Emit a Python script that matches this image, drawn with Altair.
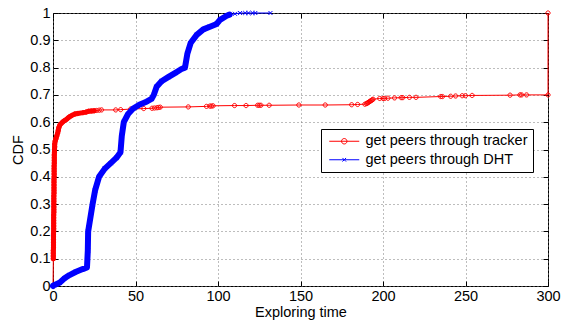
import altair as alt
import pandas as pd

series_names = ["get peers through tracker", "get peers through DHT"]
series_colors = ["#ff0000", "#0000ff"]

tracker_x = [0, 0.2, 0.2, 0.2, 0.2, 0.3, 0.3, 0.3, 0.3, 0.3, 0.3,
             0.4, 0.4, 0.4, 0.4, 0.4, 0.4, 0.4, 0.5, 0.5, 0.5,
             0.5, 0.5, 0.5, 0.5, 0.6, 0.6, 0.6, 0.6, 0.6, 0.6,
             0.7, 0.7, 0.7, 0.7, 0.7, 0.8, 0.8, 0.8, 0.8, 0.9,
             0.9, 1.0, 1.0,
             1.3, 1.8, 2.3, 2.8, 3.2, 3.5, 4.2, 5.7, 6.8, 8.1, 9.0, 10.1,
             11.5, 13.2, 15, 18.2, 20, 21.5, 23.3, 25, 26.5, 28, 29.4,
             38, 41, 47, 55, 60, 61.5, 63, 64, 65, 82, 93, 95, 96, 97,
             110, 117, 124, 125, 126, 131, 149, 165, 181, 184.6,
             189, 190, 190.5, 191, 191.5, 192, 192.5, 193, 193.5, 194,
             198, 200, 201, 203, 207, 211, 212, 216, 220, 235, 236, 241,
             244, 248, 250, 254, 277, 283, 284, 287, 300, 300]
tracker_y = [0, 0.10, 0.11, 0.12, 0.13, 0.14, 0.15, 0.16, 0.17, 0.18, 0.19,
             0.20, 0.21, 0.22, 0.23, 0.24, 0.25, 0.26, 0.27, 0.28, 0.29,
             0.30, 0.31, 0.32, 0.33, 0.34, 0.35, 0.36, 0.37, 0.38, 0.39,
             0.40, 0.41, 0.42, 0.43, 0.44, 0.45, 0.46, 0.47, 0.48, 0.49,
             0.50, 0.51, 0.52,
             0.53, 0.54, 0.55, 0.56, 0.57, 0.58, 0.59, 0.60, 0.605, 0.61, 0.615, 0.62,
             0.625, 0.63, 0.632, 0.635, 0.637, 0.64, 0.641, 0.642, 0.643, 0.644, 0.645,
             0.645, 0.646, 0.648, 0.65, 0.651, 0.652, 0.653, 0.654, 0.655, 0.656, 0.658, 0.659, 0.659, 0.66,
             0.661, 0.661, 0.662, 0.662, 0.662, 0.662, 0.663, 0.663, 0.664, 0.665,
             0.666, 0.668, 0.670, 0.672, 0.674, 0.676, 0.678, 0.680, 0.682, 0.684,
             0.687, 0.687, 0.687, 0.688, 0.689, 0.690, 0.690, 0.691, 0.691, 0.694, 0.694, 0.695,
             0.696, 0.697, 0.697, 0.698, 0.699, 0.700, 0.700, 0.700, 0.700, 1.0]

dht_x = [0, 0.5, 4, 7, 10, 14, 18, 20.6, 21.1, 21.3, 24, 25.5, 27.9, 31.4, 35,
         38.5, 40.9, 41.7, 42.9, 45.5, 48.6, 52.6, 56.7, 59.7, 61.1, 62.8,
         65.8, 69.8, 73.9, 77.9, 80, 81.4, 83.4, 87.1, 91.1, 95.1, 99.2,
         101.2, 105.3, 107, 110.3, 113.4, 116.5, 118.5, 121, 122.6, 131.8]
dht_y = [0, 0.003, 0.012, 0.028, 0.04, 0.052, 0.062, 0.068, 0.13, 0.2, 0.3, 0.35, 0.4,
         0.43, 0.45, 0.47, 0.49, 0.55, 0.6, 0.63, 0.65, 0.665, 0.675, 0.685,
         0.7, 0.73, 0.75, 0.765, 0.78, 0.795, 0.80, 0.85, 0.89, 0.92, 0.94,
         0.95, 0.96, 0.975, 0.99, 0.994, 0.997, 1.0, 1.0, 1.0, 1.0, 1.0, 1.0]

x_ticks = [0, 50, 100, 150, 200, 250, 300]
y_ticks = [0, 0.1, 0.2, 0.3, 0.4, 0.5, 0.6, 0.7, 0.8, 0.9, 1.0]

rows = []
for i, (x, y) in enumerate(zip(tracker_x, tracker_y)):
    rows.append({"series": series_names[0], "x": x, "y": y, "i": i})
for i, (x, y) in enumerate(zip(dht_x, dht_y)):
    rows.append({"series": series_names[1], "x": x, "y": y, "i": i})
df = pd.DataFrame(rows)

FONT = "Liberation Sans"
FS = 14.5

xscale = alt.Scale(domain=[0, 300], nice=False, zero=False)
yscale = alt.Scale(domain=[0, 1], nice=False, zero=False)

x_main = alt.X("x:Q", scale=xscale, axis=alt.Axis(
    orient="bottom", values=x_ticks, offset=-5, tickSize=5, ticks=True,
    tickColor="black", domain=False, grid=True, gridDash=[1, 3],
    gridColor="#7a7a7a", labelPadding=3, labelFlush=False, labelOverlap=False,
    labelFontSize=FS, labelFont=FONT, labelColor="black",
    title="Exploring time", titleFont=FONT, titleFontSize=FS,
    titleFontWeight="normal", titleColor="black", titlePadding=3))
y_main = alt.Y("y:Q", scale=yscale, axis=alt.Axis(
    orient="left", values=y_ticks, format="~g", offset=-5, tickSize=5,
    ticks=True, tickColor="black", domain=False, grid=True, gridDash=[1, 3],
    gridColor="#7a7a7a", labelPadding=3, labelFlush=False, labelOverlap=False,
    labelFontSize=FS, labelFont=FONT, labelColor="black",
    title="CDF", titleFont=FONT, titleFontSize=FS, titleFontWeight="normal",
    titleColor="black", titlePadding=4))

x_none = alt.X("x:Q", scale=xscale, axis=None)
y_none = alt.Y("y:Q", scale=yscale, axis=None)

x_top = alt.X("x:Q", scale=xscale, axis=alt.Axis(
    orient="top", values=x_ticks, offset=-5, tickSize=5, ticks=True,
    tickColor="black", domain=False, grid=False, labels=False, title=None))
y_right = alt.Y("y:Q", scale=yscale, axis=alt.Axis(
    orient="right", values=y_ticks, offset=-5, tickSize=5, ticks=True,
    tickColor="black", domain=False, grid=False, labels=False, title=None))

tr = alt.Chart(df).transform_filter(alt.datum.series == series_names[0])
dh = alt.Chart(df).transform_filter(alt.datum.series == series_names[1])

circle_path = "M0.9,0A0.9,0.9 0 1,1 -0.9,0A0.9,0.9 0 1,1 0.9,0"
xmark_path = "M-0.9,-0.9L0.9,0.9M-0.9,0.9L0.9,-0.9"

tr_line = tr.mark_line(color=series_colors[0], strokeWidth=1).encode(
    x=x_main, y=y_main, order="i:Q")
tr_thick = tr.transform_filter(
    (alt.datum.y >= 0.1) & (alt.datum.x <= 26)).mark_line(
    color=series_colors[0], strokeWidth=5, strokeCap="round",
    strokeJoin="round").encode(x=x_none, y=y_none, order="i:Q")
tr_pts = tr.mark_point(shape=circle_path, color=series_colors[0], size=22,
                       strokeWidth=1, filled=False, opacity=1).encode(
    x=x_none, y=y_none)

dh_thick = dh.transform_filter(alt.datum.x <= 108).mark_line(
    color=series_colors[1], strokeWidth=6, strokeCap="round",
    strokeJoin="round").encode(x=x_none, y=y_none, order="i:Q")
dh_line = dh.mark_line(color=series_colors[1], strokeWidth=1).encode(
    x=x_none, y=y_none, order="i:Q")
dh_pts = dh.mark_point(shape=xmark_path, color=series_colors[1], size=20,
                       strokeWidth=1, filled=False, opacity=1).encode(
    x=x_none, y=y_none)

leg_circle = ("M-1,0L6.5,0M3.43,0A0.68,0.68 0 1,1 2.07,0"
              "A0.68,0.68 0 1,1 3.43,0")
leg_x = "M-1,0L6.5,0M2.3,-0.45L3.2,0.45M2.3,0.45L3.2,-0.45"

legend_props = dict(
    orient="none", legendX=268, legendY=116, title=None,
    strokeColor="black", fillColor="white", padding=5,
    symbolSize=64, symbolStrokeWidth=1, labelOffset=25,
    labelFont=FONT, labelFontSize=FS, labelColor="black",
    rowPadding=3.5, cornerRadius=0, labelLimit=400)

legend_layer = alt.Chart(df).mark_point(opacity=0, filled=False).encode(
    x=x_top, y=y_right,
    color=alt.Color("series:N", scale=alt.Scale(domain=series_names,
                                                range=series_colors),
                    legend=alt.Legend(**legend_props)),
    shape=alt.Shape("series:N", scale=alt.Scale(domain=series_names,
                                                range=[leg_circle, leg_x]),
                    legend=alt.Legend(**legend_props)),
)

chart = alt.layer(tr_line, tr_thick, tr_pts, dh_thick, dh_line, dh_pts,
                  legend_layer).resolve_axis(
    x="independent", y="independent"
).properties(
    width=495, height=273, autosize="none",
    padding={"left": 53, "top": 13, "right": 19, "bottom": 40},
    background="white"
).configure_view(stroke="black", strokeWidth=1)

chart.save("out.html", embed_options={"renderer": "svg", "actions": False})
